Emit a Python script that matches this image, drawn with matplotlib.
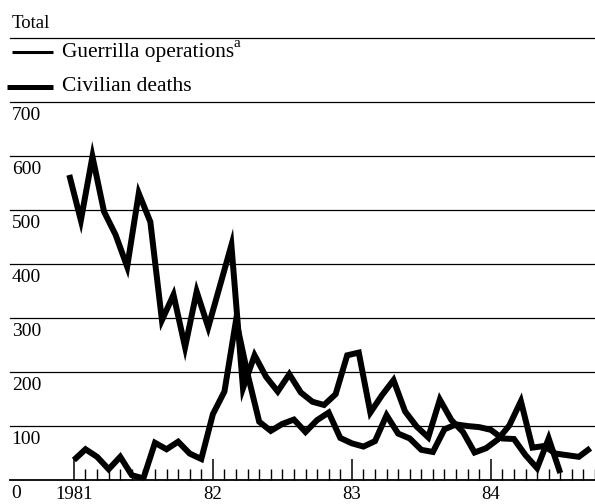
import numpy as np
import matplotlib
matplotlib.use("Agg")
import matplotlib.pyplot as plt
from matplotlib.lines import Line2D
from matplotlib import transforms

# ---------------- data (monthly, Jan 1981 onward) ----------------
civilian_deaths = [564, 480, 598, 496, 453, 394, 530, 477, 295, 342,
                   245, 348, 282, 358, 434, 169, 230, 190, 163, 195,
                   161, 144, 138, 158, 230, 235, 124, 156, 184, 126,
                   98, 78, 148, 110, 88, 50, 58, 74, 100, 145,
                   59, 62, 48, 45, 42, 58]
guerrilla_operations = [36, 56, 42, 19, 42, 8, 2, 68, 56, 70,
                        48, 38, 121, 163, 295, 195, 107, 90, 103, 111,
                        88, 110, 124, 77, 67, 61, 71, 119, 85, 76,
                        55, 51, 93, 102, 99, 97, 92, 76, 75, 45,
                        21, 76, 12]
year_labels = ["1981", "82", "83", "84"]
year_start_months = [0, 12, 24, 36]
y_ticks = [0, 100, 200, 300, 400, 500, 600, 700]
series_names = ["Guerrilla operations", "Civilian deaths"]

plt.rcParams['font.family'] = ['Liberation Serif', 'DejaVu Serif']

W, H = 595, 504
fig = plt.figure(figsize=(W / 100, H / 100), dpi=100)


def fx(x):
    return x / W


def fy(y):
    return 1 - y / H


ax_left, ax_right, ax_top, ax_bottom = 10, 595, 101.5, 479.5
ax = fig.add_axes([fx(ax_left), fy(ax_bottom), (ax_right - ax_left) / W,
                   (ax_bottom - ax_top) / H])
for s in ax.spines.values():
    s.set_visible(False)
ax.set_ylim(0, 700)
ax.set_xlim(-5.52, 44.91)

# horizontal rules
for v in y_ticks:
    ax.axhline(v, color='black', lw=1.3 if v == 0 else 0.9, clip_on=False, zorder=1)

# y labels placed under the rules
off = transforms.ScaledTranslation(1.7 / 100, -18.5 / 100, fig.dpi_scale_trans)
for v in y_ticks:
    ax.text(0, v, str(v), transform=ax.get_yaxis_transform() + off,
            ha='left', va='baseline', fontsize=14)
ax.set_yticks([])

# x ticks: monthly minor, yearly major, pointing up
ax.set_xticks(year_start_months)
ax.set_xticklabels(year_labels)
ax.set_xticks(np.arange(0, 46), minor=True)
ax.tick_params(axis='x', which='major', direction='in', length=15, width=1.1,
               pad=4.5, labelsize=13.5, bottom=True, top=False)
ax.tick_params(axis='x', which='minor', direction='in', length=8, width=1.0,
               bottom=True, top=False)

# data
x_civ = np.arange(len(civilian_deaths)) - 0.4
x_gue = np.arange(len(guerrilla_operations))
ax.plot(x_civ, civilian_deaths, color='black', lw=4.3,
        solid_joinstyle='miter', solid_capstyle='butt', zorder=3)
ax.plot(x_gue, guerrilla_operations, color='black', lw=4.3,
        solid_joinstyle='miter', solid_capstyle='butt', zorder=3)

# header: Total, rule, legend
fig.text(fx(12), fy(28.3), "Total", fontsize=13.5, ha='left', va='baseline')
fig.add_artist(Line2D([fx(10), fx(595)], [fy(38), fy(38)], color='black', lw=0.9))
fig.add_artist(Line2D([fx(11.7), fx(53.3)], [fy(51.7), fy(51.7)], color='black', lw=2.2,
                      solid_capstyle='butt'))
fig.text(fx(61.7), fy(57.3), series_names[0], fontsize=15.4, ha='left', va='baseline')
fig.text(fx(233), fy(47), "a", fontsize=11, ha='left', va='baseline')
fig.add_artist(Line2D([fx(6.7), fx(53.3)], [fy(87.3), fy(87.3)], color='black', lw=3.6,
                      solid_capstyle='butt'))
fig.text(fx(61.7), fy(91), series_names[1], fontsize=15.5, ha='left', va='baseline')

fig.savefig("out.png", dpi=100)
